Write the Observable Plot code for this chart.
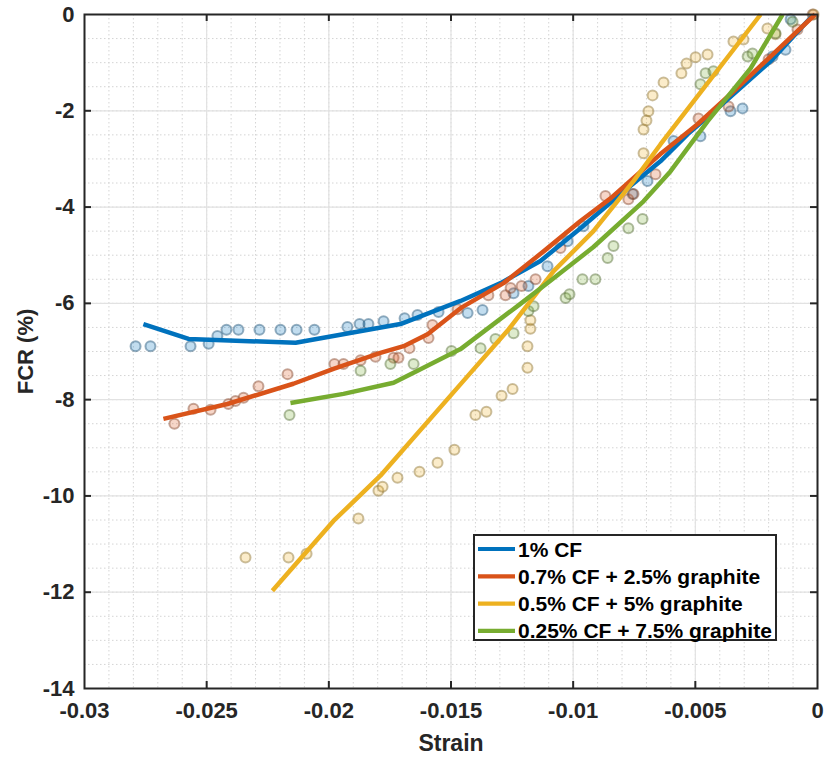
<!DOCTYPE html>
<html>
<head>
<meta charset="utf-8">
<script src="https://cdn.jsdelivr.net/npm/d3@7"></script>
<script src="https://cdn.jsdelivr.net/npm/@observablehq/plot@0.6"></script>
<style>
  html, body { margin: 0; padding: 0; background: #fff; }
</style>
</head>
<body>
<div id="chart"></div>
<script>
// ---- Data ----
const seriesNames = ["1% CF", "0.7% CF + 2.5% graphite", "0.5% CF + 5% graphite", "0.25% CF + 7.5% graphite"];
const seriesColors = ["#0072BD", "#D95319", "#EDB120", "#77AC30"];

const xTicks = [-0.03, -0.025, -0.02, -0.015, -0.01, -0.005, 0];
const yTicks = [-14, -12, -10, -8, -6, -4, -2, 0];
const xTickLabels = ["-0.03", "-0.025", "-0.02", "-0.015", "-0.01", "-0.005", "0"];
const yTickLabels = ["-14", "-12", "-10", "-8", "-6", "-4", "-2", "0"];

// fitted lines
const line1CF = [[-0.02759,-6.43],[-0.02574,-6.74],[-0.02136,-6.82],[-0.01707,-6.43],[-0.01461,-5.95],[-0.01297,-5.58],[-0.01134,-5.12],[-0.00970,-4.44],[-0.00806,-3.73],[-0.00643,-3.05],[-0.00532,-2.49],[-0.00409,-1.95],[-0.00192,-0.97],[-0.0002,-0.02]];
const line07CF = [[-0.02677,-8.40],[-0.02415,-8.09],[-0.02145,-7.67],[-0.01981,-7.36],[-0.01789,-7.03],[-0.01694,-6.89],[-0.01596,-6.64],[-0.01461,-6.10],[-0.01285,-5.58],[-0.01121,-4.92],[-0.00970,-4.29],[-0.00847,-3.82],[-0.00643,-2.90],[-0.00491,-2.28],[-0.00344,-1.60],[-0.0001,0]];
const line05CF = [[-0.02231,-11.97],[-0.01981,-10.52],[-0.01789,-9.58],[-0.01449,-7.61],[-0.01269,-6.57],[-0.01080,-5.33],[-0.00917,-4.50],[-0.00753,-3.46],[-0.00643,-2.70],[-0.00233,0]];
const line025CF = [[-0.02157,-8.07],[-0.01940,-7.88],[-0.01735,-7.65],[-0.01637,-7.40],[-0.01461,-6.95],[-0.01216,-6.01],[-0.01080,-5.48],[-0.00917,-4.83],[-0.00712,-3.88],[-0.00602,-3.26],[-0.00450,-2.22],[-0.00274,-1.12],[-0.00143,0]];

// measured points
const pts1CF = [[-0.02791,-6.89],[-0.02730,-6.89],[-0.02566,-6.89],[-0.02492,-6.84],[-0.02456,-6.68],[-0.02419,-6.55],[-0.02370,-6.55],[-0.02284,-6.55],[-0.02198,-6.55],[-0.02132,-6.55],[-0.02059,-6.55],[-0.01924,-6.49],[-0.01874,-6.43],[-0.01838,-6.43],[-0.01776,-6.37],[-0.01690,-6.31],[-0.01637,-6.24],[-0.01551,-6.18],[-0.01432,-6.20],[-0.01371,-6.14],[-0.01244,-5.79],[-0.01183,-5.64],[-0.01105,-5.23],[-0.01023,-4.71],[-0.00958,-4.40],[-0.00757,-3.73],[-0.00696,-3.46],[-0.00589,-2.63],[-0.00479,-2.53],[-0.00356,-2.01],[-0.00307,-1.95],[-0.00184,-0.87],[-0.00131,-0.73],[-0.00110,-0.10]];
const pts07CF = [[-0.02632,-8.50],[-0.02554,-8.19],[-0.02484,-8.21],[-0.02411,-8.09],[-0.02382,-8.03],[-0.02349,-7.96],[-0.02288,-7.72],[-0.02169,-7.47],[-0.01977,-7.26],[-0.01940,-7.26],[-0.01870,-7.18],[-0.01809,-7.11],[-0.01735,-7.13],[-0.01715,-7.13],[-0.01670,-6.93],[-0.01592,-6.72],[-0.01576,-6.45],[-0.01473,-6.12],[-0.01347,-5.83],[-0.01277,-5.83],[-0.01256,-5.68],[-0.01211,-5.64],[-0.01154,-5.50],[-0.01052,-4.85],[-0.00868,-3.77],[-0.00774,-3.84],[-0.00753,-3.73],[-0.00663,-3.32],[-0.00487,-2.16],[-0.00364,-1.91],[-0.00200,-0.93],[-0.00082,-0.31],[-0.0002,0]];
const pts05CF = [[-0.02341,-11.28],[-0.02165,-11.28],[-0.02091,-11.20],[-0.01879,-10.47],[-0.01797,-9.89],[-0.01780,-9.81],[-0.01719,-9.62],[-0.01629,-9.50],[-0.01555,-9.31],[-0.01486,-9.04],[-0.01400,-8.32],[-0.01355,-8.25],[-0.01293,-7.92],[-0.01248,-7.78],[-0.01187,-7.34],[-0.01187,-6.89],[-0.01175,-6.53],[-0.01175,-6.35],[-0.00712,-2.88],[-0.00712,-2.39],[-0.00700,-2.20],[-0.00692,-2.01],[-0.00675,-1.68],[-0.00630,-1.41],[-0.00557,-1.22],[-0.00536,-1.02],[-0.00499,-0.89],[-0.00450,-0.83],[-0.00344,-0.56],[-0.00303,-0.52],[-0.00205,-0.29],[-0.00172,-0.41],[-0.00016,0]];
const pts025CF = [[-0.02161,-8.32],[-0.01870,-7.40],[-0.01748,-7.26],[-0.01653,-7.26],[-0.01498,-6.99],[-0.01379,-6.93],[-0.01318,-6.74],[-0.01244,-6.62],[-0.01183,-6.16],[-0.01162,-6.06],[-0.01031,-5.89],[-0.01015,-5.81],[-0.00962,-5.50],[-0.00909,-5.50],[-0.00859,-5.06],[-0.00835,-4.81],[-0.00774,-4.44],[-0.00716,-4.25],[-0.00479,-1.45],[-0.00458,-1.22],[-0.00426,-1.18],[-0.00286,-0.87],[-0.00266,-0.81],[-0.00172,-0.39],[-0.00102,-0.15]];

// ---- Tables built from the arrays ----
const lineSets = [line1CF, line07CF, line05CF, line025CF];
const pointSets = [pts1CF, pts07CF, pts05CF, pts025CF];
const lines = lineSets.flatMap((arr, i) => arr.map(([x, y]) => ({x, y, s: seriesNames[i], c: seriesColors[i]})));
const ringColors = seriesColors.map(c => d3.interpolateRgb(c, "#3a3a3a")(0.55));
const points = pointSets.flatMap((arr, i) => arr.map(([x, y]) => ({x, y, s: seriesNames[i], c: seriesColors[i], rc: ringColors[i]})));

const xMinor = d3.range(-30, 1).map(i => i / 1000);
const yMinor = d3.range(-28, 1).map(i => i / 2);

const W = 825, H = 758;
const mL = 84, mR = 8, mT = 14, mB = 70;
const pw = W - mL - mR, ph = H - mT - mB;
const tickLen = 7;
const ink = "#262626";
const font = "'Liberation Sans', Arial, Helvetica, sans-serif";
const fmtX = d => xTickLabels[xTicks.indexOf(d)];
const fmtY = d => yTickLabels[yTicks.indexOf(d)];

const chart = Plot.plot({
  width: W, height: H,
  marginLeft: mL, marginRight: mR, marginTop: mT, marginBottom: mB,
  x: {domain: [-0.03, 0]},
  y: {domain: [-14, 0]},
  color: {type: "identity"},
  style: {fontFamily: font, fontWeight: "bold", background: "#fff", color: ink, overflow: "visible"},
  marks: [
    Plot.gridX(xMinor, {stroke: "#d4d4d4", strokeOpacity: 1, strokeDasharray: "1.5,2.5"}),
    Plot.gridY(yMinor, {stroke: "#d4d4d4", strokeOpacity: 1, strokeDasharray: "1.5,2.5"}),
    Plot.gridX(xTicks, {stroke: "#e2e2e2", strokeOpacity: 1, strokeWidth: 1.2}),
    Plot.gridY(yTicks, {stroke: "#e2e2e2", strokeOpacity: 1, strokeWidth: 1.2}),
    Plot.dot(points, {x: "x", y: "y", r: 5, fill: "c", fillOpacity: 0.24, stroke: "rc", strokeOpacity: 0.45, strokeWidth: 2}),
    Plot.line(lines, {x: "x", y: "y", z: "s", stroke: "c", strokeWidth: 4.5, strokeLinejoin: "round", strokeLinecap: "butt"}),
    Plot.frame({stroke: ink, strokeWidth: 2}),
    Plot.ruleX(xTicks.slice(1, -1), {x: d => d, insetTop: ph - tickLen, stroke: ink, strokeWidth: 2}),
    Plot.ruleX(xTicks.slice(1, -1), {x: d => d, insetBottom: ph - tickLen, stroke: ink, strokeWidth: 2}),
    Plot.ruleY(yTicks.slice(1, -1), {y: d => d, insetRight: pw - tickLen, stroke: ink, strokeWidth: 2}),
    Plot.ruleY(yTicks.slice(1, -1), {y: d => d, insetLeft: pw - tickLen, stroke: ink, strokeWidth: 2}),
    Plot.axisX(xTicks, {tickSize: 0, tickPadding: 14, tickFormat: fmtX, fontSize: 22, fontWeight: "bold", label: null, fill: ink}),
    Plot.axisY(yTicks, {tickSize: 0, tickPadding: 10, tickFormat: fmtY, fontSize: 22, fontWeight: "bold", label: null, fill: ink}),
    Plot.text(["Strain"], {frameAnchor: "bottom", dy: 55, lineAnchor: "middle", textAnchor: "middle", fontSize: 23, fontWeight: "bold", fill: ink, text: d => d}),
    Plot.text(["FCR (%)"], {frameAnchor: "left", dx: -59, rotate: -90, textAnchor: "middle", lineAnchor: "middle", fontSize: 22, fontWeight: "bold", fill: ink, text: d => d})
  ]
});

document.getElementById("chart").appendChild(chart);

// ---- Legend inside the plot (lower right) ----
const svg = d3.select(chart);
const lg = svg.append("g").attr("font-family", font).attr("font-weight", "bold").attr("text-anchor", "start");
const lx = 474, ly = 535, lw = 302, lh = 105, rowH = 27.3;
lg.append("rect").attr("x", lx).attr("y", ly).attr("width", lw).attr("height", lh)
  .attr("fill", "#fff").attr("stroke", ink).attr("stroke-width", 2);
seriesNames.forEach((name, i) => {
  const cy = ly + 14 + i * rowH;
  lg.append("line").attr("x1", lx + 4).attr("x2", lx + 41).attr("y1", cy).attr("y2", cy)
    .attr("stroke", seriesColors[i]).attr("stroke-width", 4.2);
  lg.append("text").attr("x", lx + 44).attr("y", cy).attr("dy", "0.36em")
    .attr("text-anchor", "start").attr("font-size", 21).attr("fill", "#000").text(name);
});
</script>
</body>
</html>
